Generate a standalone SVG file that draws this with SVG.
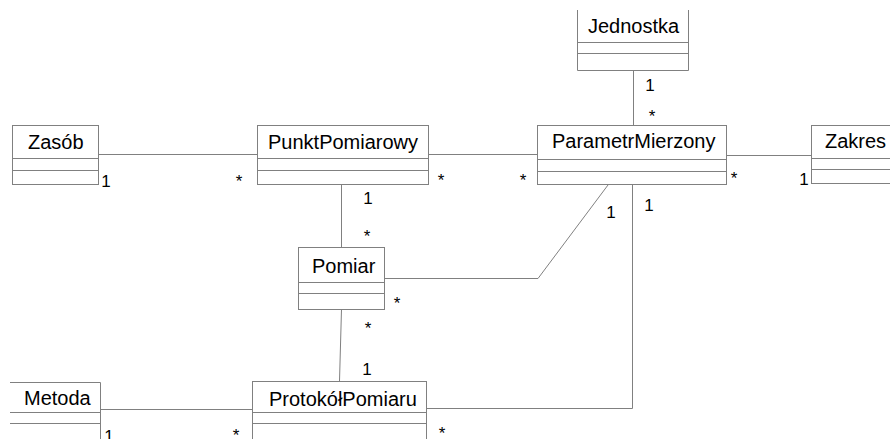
<svg xmlns="http://www.w3.org/2000/svg" width="890" height="439" viewBox="0 0 890 439">
<style>
.box{fill:#fff;stroke:#808080;stroke-width:1}
.sep{stroke:#808080;stroke-width:1;fill:none}
.con{stroke:#808080;stroke-width:1;fill:none}
.t{font-family:"Liberation Sans",Arial,sans-serif;font-size:20px;fill:#000}
.m{font-family:"Liberation Sans",Arial,sans-serif;font-size:17px;fill:#000;text-anchor:middle}
</style>
<rect width="890" height="439" fill="#fff"/>
<g id="connectors">
<line class="con" x1="98" y1="154.5" x2="257" y2="154.5"/>
<line class="con" x1="428" y1="154.5" x2="537" y2="154.5"/>
<line class="con" x1="726" y1="155.5" x2="811" y2="155.5"/>
<line class="con" x1="633.5" y1="70" x2="633.5" y2="125"/>
<line class="con" x1="341.5" y1="184" x2="341.5" y2="247"/>
<polyline class="con" points="384,278.5 538,278.5 608,185"/>
<line class="con" x1="341.5" y1="309" x2="339.5" y2="381"/>
<line class="con" x1="100" y1="409.5" x2="252" y2="409.5"/>
<polyline class="con" points="426,408.5 632.5,408.5 632.5,185"/>
</g>
<g id="Zasob">
<rect class="box" x="12.5" y="125.5" width="86" height="59"/>
<path class="sep" d="M12.5 158.5H98.5M12.5 170.5H98.5"/>
<text class="t" x="28" y="149">Zasób</text>
</g>
<g id="PunktPomiarowy">
<rect class="box" x="257.5" y="125.5" width="171" height="59"/>
<path class="sep" d="M257.5 158.5H428.5M257.5 170.5H428.5"/>
<text class="t" x="268" y="149">PunktPomiarowy</text>
</g>
<g id="ParametrMierzony">
<rect class="box" x="537.5" y="125.5" width="189" height="59"/>
<path class="sep" d="M537.5 159.5H726.5M537.5 171.5H726.5"/>
<text class="t" x="552" y="148">ParametrMierzony</text>
</g>
<g id="Jednostka">
<path class="box" d="M577.5 10V70.5H688.5V10"/>
<path class="sep" d="M577.5 42.5H688.5M577.5 53.5H688.5"/>
<text class="t" x="588" y="33">Jednostka</text>
</g>
<g id="Zakres">
<rect class="box" x="811.5" y="125.5" width="100" height="58"/>
<path class="sep" d="M811.5 158.5H911M811.5 169.5H911"/>
<text class="t" x="825" y="148">Zakres</text>
</g>
<g id="Pomiar">
<rect class="box" x="298.5" y="247.5" width="86" height="62"/>
<path class="sep" d="M298.5 282.5H384.5M298.5 293.5H384.5"/>
<text class="t" x="312" y="273">Pomiar</text>
</g>
<g id="ProtokolPomiaru">
<rect class="box" x="252.5" y="381.5" width="174" height="70"/>
<path class="sep" d="M252.5 412.5H426.5M252.5 423.5H426.5"/>
<text class="t" x="269" y="406">ProtokółPomiaru</text>
</g>
<g id="Metoda">
<path class="box" d="M10 382.5H100.5V445"/>
<path class="sep" d="M10 412.5H100.5M10 423.5H100.5"/>
<text class="t" x="24" y="405">Metoda</text>
</g>
<g id="multiplicities">
<text class="m" x="106" y="187">1</text>
<text class="m" x="239" y="187">*</text>
<text class="m" x="441" y="186">*</text>
<text class="m" x="523" y="186">*</text>
<text class="m" x="368" y="204">1</text>
<text class="m" x="367" y="242">*</text>
<text class="m" x="611" y="218">1</text>
<text class="m" x="649" y="211">1</text>
<text class="m" x="397" y="309">*</text>
<text class="m" x="368" y="334">*</text>
<text class="m" x="367" y="375">1</text>
<text class="m" x="109" y="442">1</text>
<text class="m" x="236" y="441">*</text>
<text class="m" x="442" y="439">*</text>
<text class="m" x="650" y="91">1</text>
<text class="m" x="652" y="122">*</text>
<text class="m" x="734" y="184">*</text>
<text class="m" x="804" y="185">1</text>
</g>
</svg>
